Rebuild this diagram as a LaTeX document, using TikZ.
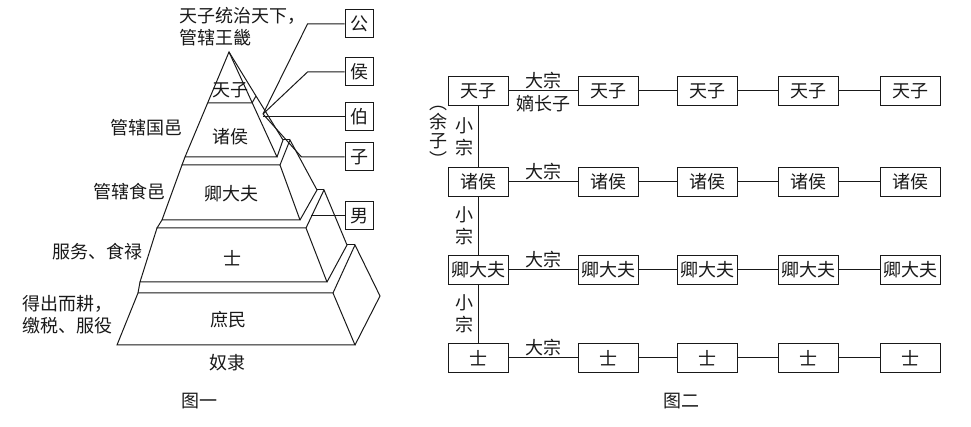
\documentclass[tikz,border=0pt]{standalone}
\usepackage{fontspec}
\setmainfont{Noto Sans CJK SC}
\usetikzlibrary{calc}
\tikzset{
  bx/.style={draw,minimum width=30pt,minimum height=14.5pt,inner sep=0.5pt},
  rk/.style={draw,minimum size=14pt,inner sep=0pt},
  dz/.style={midway,above,inner sep=0.6pt},
  dzb/.style={midway,below,inner sep=2pt},
  xz/.style={midway,left,inner sep=2pt,align=center,font=\fontsize{9}{11}\selectfont},
  yz/.style={midway,left=15pt,inner sep=0pt,align=center,font=\fontsize{9}{9.6}\selectfont},
  every picture/.style={line width=0.5pt},
}
\begin{document}
\begin{tikzpicture}[x=0.5pt,y=-0.5pt,font=\fontsize{9}{11}\selectfont,color=black!90]
\useasboundingbox (0,0) rectangle (971,427);
\coordinate (p) at (229,52); \coordinate (c0) at (263,114); \coordinate (m0) at (311,216);
\draw (p)--(185,157)--(277,157)--cycle; \draw (p)--(283,140)--(277,157); \draw (208,103)--(252,103)--(256,96);
\draw (182,165)--(280,165)--(300,220)--(162,220)--cycle; \draw (280,165)--(290,140)--(317,190)--(300,220);
\draw (185,157)--(182,165); \draw (283,140)--(290,140);
\draw (157,228)--(306,228)--(327,282)--(140,282)--cycle; \draw (306,228)--(324,190)--(347,245)--(327,282);
\draw (162,220)--(157,228); \draw (317,190)--(324,190);
\draw (138,293)--(333,293)--(355,345)--(117,345)--cycle; \draw (333,293)--(355,245)--(380,296)--(355,345);
\draw (140,282)--(138,293); \draw (347,245)--(355,245);
\node at (230,90){天子}; \node at (230,137){诸侯}; \node at (231,194){卿大夫}; \node at (232,258){士}; \node at (228,320){庶民};
\node[anchor=west,align=left,inner sep=0pt] at (179,27){天子统治天下，\\管辖王畿};
\node at (147,128){管辖国邑}; \node at (129,192){管辖食邑}; \node at (98,252){服务、食禄};
\node[anchor=west,align=left,inner sep=0pt] at (22,315){得出而耕，\\缴税、服役};
\node at (227,363){奴隶}; \node at (199,401){图一};
\node[rk] (gong) at (359,24){公}; \node[rk] (hou) at (359,72){侯}; \node[rk] (bo) at (359,117){伯};
\node[rk] (zi) at (359,157){子}; \node[rk] (nan) at (359,216){男};
\draw (c0)--($(gong.west)+(-37,0)$)--(gong.west); \draw (c0)--($(hou.west)+(-37,0)$)--(hou.west);
\draw (c0|-bo.west)--(bo.west); \draw (c0)--($(zi.west)+(-43,0)$)--(zi.west); \draw (m0)--(nan.west);
\node[bx] (t1) at (478,91){天子}; \node[bx] (t2) at (608,91){天子}; \node[bx] (t3) at (707,91){天子}; \node[bx] (t4) at (808,91){天子}; \node[bx] (t5) at (910,91){天子};
\node[bx] (z1) at (478,182){诸侯}; \node[bx] (z2) at (608,182){诸侯}; \node[bx] (z3) at (707,182){诸侯}; \node[bx] (z4) at (808,182){诸侯}; \node[bx] (z5) at (910,182){诸侯};
\node[bx] (q1) at (478,270){卿大夫}; \node[bx] (q2) at (608,270){卿大夫}; \node[bx] (q3) at (707,270){卿大夫}; \node[bx] (q4) at (808,270){卿大夫}; \node[bx] (q5) at (910,270){卿大夫};
\node[bx] (s1) at (478,358){士}; \node[bx] (s2) at (608,358){士}; \node[bx] (s3) at (707,358){士}; \node[bx] (s4) at (808,358){士}; \node[bx] (s5) at (910,358){士};
\draw (t1)--node[dz]{大宗}node[dzb]{嫡长子}(t2); \draw (t2)--(t3); \draw (t3)--(t4); \draw (t4)--(t5);
\draw (z1)--node[dz]{大宗}(z2); \draw (z2)--(z3); \draw (z3)--(z4); \draw (z4)--(z5);
\draw (q1)--node[dz]{大宗}(q2); \draw (q2)--(q3); \draw (q3)--(q4); \draw (q4)--(q5);
\draw (s1)--node[dz]{大宗}(s2); \draw (s2)--(s3); \draw (s3)--(s4); \draw (s4)--(s5);
\draw (t1)--node[xz]{小\\宗}node[yz]{︵\\余\\子\\︶}(z1); \draw (z1)--node[xz]{小\\宗}(q1); \draw (q1)--node[xz]{小\\宗}(s1);
\node at (681,401){图二};
\end{tikzpicture}
\end{document}
